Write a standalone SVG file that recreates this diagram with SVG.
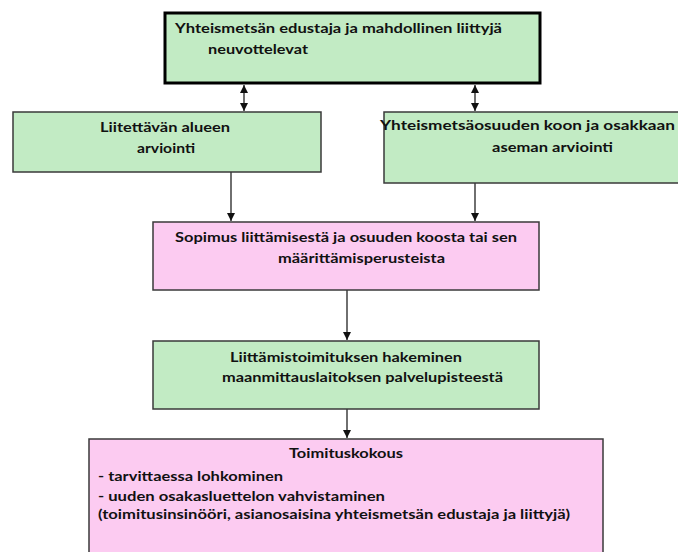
<svg xmlns="http://www.w3.org/2000/svg" width="678" height="552" viewBox="0 0 678 552">
<defs>
<style>
.g{fill:#c2ebc4;stroke:#3a3a3a;stroke-width:1.5}
.p{fill:#fccbf1;stroke:#3a3a3a;stroke-width:1.5}
.t{font-family:Lato,"Liberation Sans",sans-serif;font-weight:bold;font-size:14px;fill:#111}
.c{stroke:#222;stroke-width:1.3;fill:none}
</style>
<marker id="ah" viewBox="0 0 8 8" refX="8" refY="4" markerWidth="8" markerHeight="8" markerUnits="userSpaceOnUse" orient="auto-start-reverse">
<path d="M0,0 L8,4 L0,8 Z" fill="#111"/>
</marker>
</defs>
<rect width="678" height="552" fill="#fff"/>
<g id="connectors">
<line class="c" x1="244" y1="85" x2="244" y2="111" marker-start="url(#ah)" marker-end="url(#ah)"/>
<line class="c" x1="475" y1="85" x2="475" y2="111" marker-start="url(#ah)" marker-end="url(#ah)"/>
<line class="c" x1="231" y1="172" x2="231" y2="221" marker-end="url(#ah)"/>
<line class="c" x1="475" y1="183" x2="475" y2="221" marker-end="url(#ah)"/>
<line class="c" x1="347" y1="290" x2="347" y2="340" marker-end="url(#ah)"/>
<line class="c" x1="347" y1="409" x2="347" y2="438" marker-end="url(#ah)"/>
</g>
<g id="n1">
<rect x="165" y="13" width="375" height="70" fill="#c2ebc4" stroke="#000" stroke-width="3"/>
<text class="t" x="175" y="33" textLength="327" lengthAdjust="spacingAndGlyphs">Yhteismetsän edustaja ja mahdollinen liittyjä</text>
<text class="t" x="208" y="54" textLength="100" lengthAdjust="spacingAndGlyphs">neuvottelevat</text>
</g>
<g id="n2">
<rect class="g" x="13" y="112" width="308" height="60"/>
<text class="t" x="100" y="132" textLength="130" lengthAdjust="spacingAndGlyphs">Liitettävän alueen</text>
<text class="t" x="137" y="153" textLength="58" lengthAdjust="spacingAndGlyphs">arviointi</text>
</g>
<g id="n3">
<rect class="g" x="384" y="112" width="300" height="71"/>
<text class="t" x="380" y="130" textLength="295" lengthAdjust="spacingAndGlyphs">Yhteismetsäosuuden koon ja osakkaan</text>
<text class="t" x="492" y="152" textLength="121" lengthAdjust="spacingAndGlyphs">aseman arviointi</text>
</g>
<g id="n4">
<rect class="p" x="153" y="222" width="386" height="68"/>
<text class="t" x="175" y="242" textLength="342" lengthAdjust="spacingAndGlyphs">Sopimus liittämisestä ja osuuden koosta tai sen</text>
<text class="t" x="278" y="263" textLength="167" lengthAdjust="spacingAndGlyphs">määrittämisperusteista</text>
</g>
<g id="n5">
<rect class="g" x="153" y="341" width="386" height="68"/>
<text class="t" x="230" y="362" textLength="232" lengthAdjust="spacingAndGlyphs">Liittämistoimituksen hakeminen</text>
<text class="t" x="222" y="382" textLength="281" lengthAdjust="spacingAndGlyphs">maanmittauslaitoksen palvelupisteestä</text>
</g>
<g id="n6">
<rect class="p" x="89" y="439" width="514" height="130"/>
<text class="t" x="289" y="458" textLength="114" lengthAdjust="spacingAndGlyphs">Toimituskokous</text>
<text class="t" x="98" y="481" textLength="185" lengthAdjust="spacingAndGlyphs">- tarvittaessa lohkominen</text>
<text class="t" x="98" y="501" textLength="287" lengthAdjust="spacingAndGlyphs">- uuden osakasluettelon vahvistaminen</text>
<text class="t" x="98" y="519" textLength="472" lengthAdjust="spacingAndGlyphs">(toimitusinsinööri, asianosaisina yhteismetsän edustaja ja liittyjä)</text>
</g>
</svg>
